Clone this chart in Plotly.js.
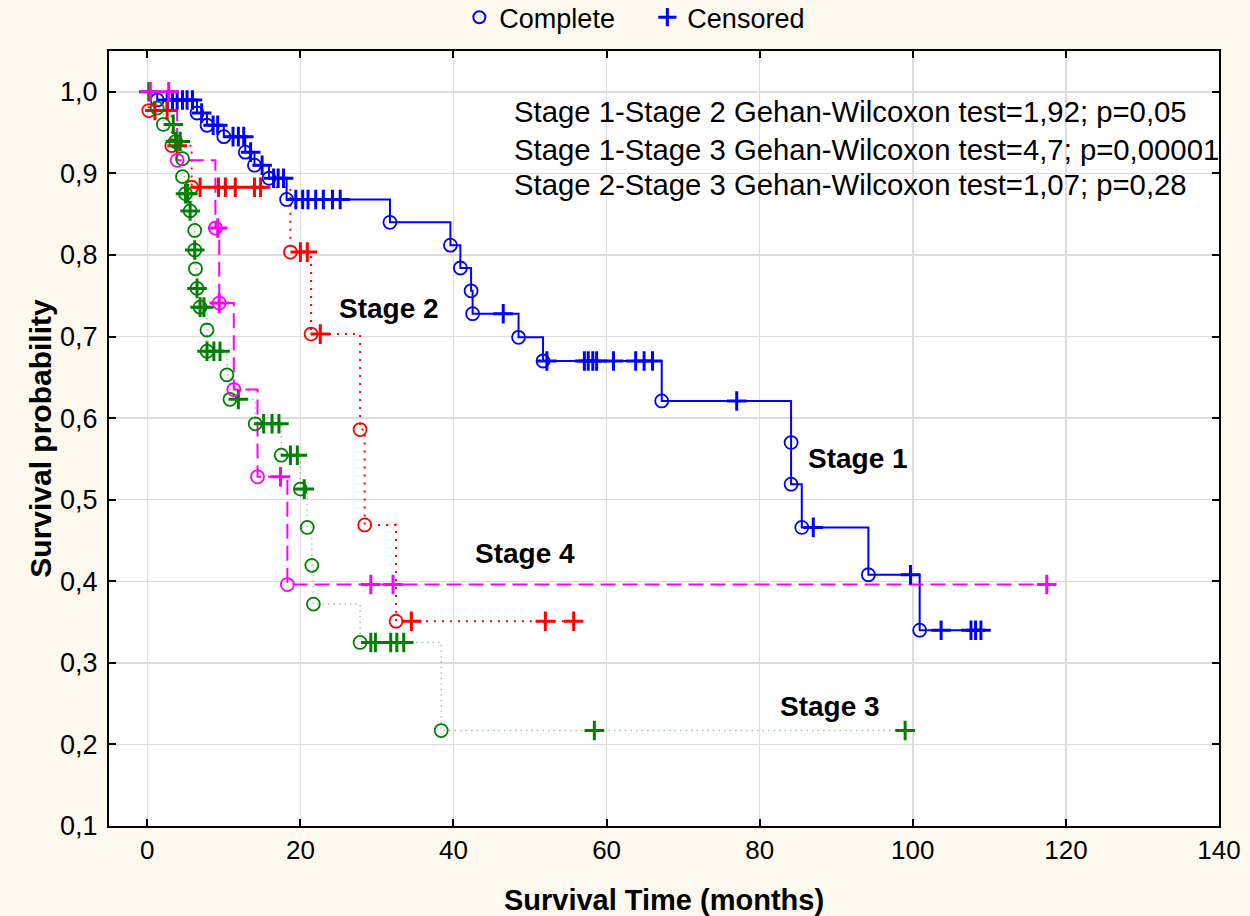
<!DOCTYPE html>
<html>
<head>
<meta charset="utf-8">
<script src="https://cdn.plot.ly/plotly-3.0.1.min.js"></script>
<style>html,body{margin:0;padding:0;background:#fdf9ee;}#chart{width:1250px;height:916px;}</style>
</head>
<body>
<div id="chart"></div>
<script>
// ---- Data ----
// Stage 1
const stage1EventT = [1.3,6.5,7.8,10.0,12.8,14.0,15.9,18.2,31.7,39.6,40.9,42.3,42.5,48.5,51.7,67.2,84.1,84.1,85.5,94.2,100.9];
const stage1EventS = [0.990,0.974,0.959,0.945,0.926,0.910,0.894,0.868,0.840,0.812,0.784,0.756,0.728,0.699,0.670,0.621,0.570,0.519,0.466,0.408,0.340];
const stage1CensT = [2.6,3.3,3.9,4.6,5.2,5.9,7.1,8.6,9.2,11.2,11.9,12.6,13.5,15.0,16.5,17.1,17.8,19.4,20.3,21.0,22.0,23.0,24.2,25.2,46.5,52.2,57.1,57.6,58.2,58.7,60.9,63.8,64.9,66.0,77.0,87.0,99.7,103.7,107.6,108.2,108.9];
const stage1CensS = [0.990,0.990,0.990,0.990,0.990,0.990,0.974,0.959,0.959,0.945,0.945,0.945,0.926,0.910,0.894,0.894,0.894,0.868,0.868,0.868,0.868,0.868,0.868,0.868,0.728,0.670,0.670,0.670,0.670,0.670,0.670,0.670,0.670,0.670,0.621,0.466,0.408,0.340,0.340,0.340,0.340];
// Stage 2
const stage2EventT = [0.2,3.2,5.8,18.7,21.4,27.8,28.4,32.5];
const stage2EventS = [0.977,0.934,0.883,0.8035,0.703,0.586,0.469,0.351];
const stage2CensT = [1.0,2.6,3.9,6.9,9.3,10.2,11.5,14.0,14.8,20.0,20.9,22.6,34.5,52.0,55.7];
const stage2CensS = [0.977,0.977,0.934,0.883,0.883,0.883,0.883,0.883,0.883,0.8035,0.8035,0.703,0.351,0.351,0.351];
// Stage 3
const stage3EventT = [1.3,2.1,3.7,4.6,4.6,5.0,5.6,6.2,6.2,6.3,6.5,6.9,7.8,7.8,10.4,10.8,14.1,17.5,20.0,20.9,21.5,21.7,27.8,38.4];
const stage3EventS = [0.980,0.960,0.939,0.918,0.896,0.875,0.854,0.830,0.806,0.783,0.759,0.736,0.708,0.682,0.653,0.623,0.593,0.5545,0.513,0.466,0.4195,0.372,0.325,0.217];
const stage3CensT = [0.2,3.4,3.7,4.3,5.0,5.3,5.6,6.2,6.5,6.9,7.4,7.8,8.7,9.5,11.9,15.2,16.3,17.2,18.7,19.6,20.5,29.2,29.8,31.8,32.6,33.5,58.4,99.0];
const stage3CensS = [1.0,0.960,0.939,0.939,0.875,0.875,0.854,0.806,0.759,0.736,0.736,0.682,0.682,0.682,0.623,0.593,0.593,0.593,0.5545,0.5545,0.513,0.325,0.325,0.325,0.325,0.325,0.217,0.217];
// Stage 4
const stage4EventT = [3.9,8.9,9.4,11.3,14.4,18.3];
const stage4EventS = [0.916,0.833,0.741,0.635,0.528,0.396];
const stage4CensT = [0.4,2.8,9.2,9.4,17.4,29.2,32.1,117.5];
const stage4CensS = [1.0,1.0,0.833,0.741,0.528,0.396,0.396,0.396];

const statLines = [
  "Stage 1-Stage 2 Gehan-Wilcoxon test=1,92; p=0,05",
  "Stage 1-Stage 3 Gehan-Wilcoxon test=4,7; p=0,00001",
  "Stage 2-Stage 3 Gehan-Wilcoxon test=1,07; p=0,28"
];
const stageLabels = ["Stage 1","Stage 2","Stage 3","Stage 4"];

// ---- Build traces ----
const FONT = "Liberation Sans, Arial, sans-serif";
const styles = [
  {color:"#0000ff", line:{color:"#0000ff", width:2, dash:"solid"}},
  {color:"#ff0000", line:{color:"#ff0000", width:2, dash:"2px,6px"}},
  {color:"#008000", line:{color:"rgba(0,128,0,0.4)", width:1.5, dash:"1.5px,4px"}},
  {color:"#ff00ff", line:{color:"#ff00ff", width:2, dash:"15px,7px"}}
];
const stages = [
  [stage1EventT,stage1EventS,stage1CensT,stage1CensS],
  [stage2EventT,stage2EventS,stage2CensT,stage2CensS],
  [stage3EventT,stage3EventS,stage3CensT,stage3CensS],
  [stage4EventT,stage4EventS,stage4CensT,stage4CensS]
];
const traces = [];
stages.forEach((s, i) => {
  const pts = [[0,1]];
  s[0].forEach((t,k)=>pts.push([t,s[1][k]]));
  s[2].forEach((t,k)=>pts.push([t,s[3][k]]));
  pts.sort((a,b)=> a[0]-b[0] || b[1]-a[1]);
  traces.push({x:pts.map(p=>p[0]), y:pts.map(p=>p[1]), mode:"lines", line:Object.assign({shape:"hv"}, styles[i].line), showlegend:false, hoverinfo:"skip"});
});
stages.forEach((s, i) => {
  traces.push({x:s[0], y:s[1], mode:"markers", showlegend:false,
    marker:{symbol:"circle-open", size:13, color:styles[i].color, line:{width:1.8, color:styles[i].color}}});
  traces.push({x:s[2], y:s[3], mode:"markers", showlegend:false,
    marker:{symbol:"cross-thin-open", size:14, color:styles[i].color, line:{width:3, color:styles[i].color}}});
});
// legend entries
traces.push({x:[null], y:[null], mode:"markers", name:"Complete",
  marker:{symbol:"circle-open", size:12, color:"#0000ff", line:{width:2, color:"#0000ff"}}});
traces.push({x:[null], y:[null], mode:"markers", name:"Censored",
  marker:{symbol:"cross-thin-open", size:13, color:"#0000ff", line:{width:3, color:"#0000ff"}}});

const annotations = [];
const statY = [0.976, 0.929, 0.886];
statLines.forEach((t,k)=>annotations.push({x:47.6, y:statY[k], xref:"x", yref:"y", text:t, showarrow:false, xanchor:"left", yanchor:"middle", font:{family:FONT, size:29.3, color:"#000"}}));
const labelPos = [[92.8,0.551],[31.6,0.734],[89.2,0.247],[49.3,0.434]];
stageLabels.forEach((t,k)=>annotations.push({x:labelPos[k][0], y:labelPos[k][1], xref:"x", yref:"y", text:"<b>"+t+"</b>", showarrow:false, xanchor:"center", yanchor:"middle", font:{family:FONT, size:28, color:"#000"}}));

const layout = {
  width:1250, height:916,
  paper_bgcolor:"#fdf9ee", plot_bgcolor:"#ffffff",
  margin:{l:109, r:31, t:51, b:90, pad:0, autoexpand:false},
  separators:", ",
  font:{family:FONT, size:26, color:"#000"},
  showlegend:true,
  legend:{orientation:"h", x:0.485, xanchor:"center", y:1.043, yanchor:"middle", entrywidth:143, entrywidthmode:"pixels", bgcolor:"rgba(0,0,0,0)", font:{family:FONT, size:27, color:"#000"}},
  xaxis:{range:[-5,140], tickvals:[0,20,40,60,80,100,120,140], showgrid:true, gridcolor:"#dcdcdc", gridwidth:1.5,
    showline:true, linecolor:"#000", linewidth:2, mirror:"ticks", ticks:"inside", ticklen:7, tickwidth:2, tickcolor:"#000",
    zeroline:false, tickfont:{family:FONT, size:26},
    title:{text:"<b>Survival Time (months)</b>", font:{family:FONT, size:29}, standoff:26}},
  yaxis:{range:[0.1,1.05], tickvals:[0.1,0.2,0.3,0.4,0.5,0.6,0.7,0.8,0.9,1.0], tickformat:".1f", showgrid:true, gridcolor:"#dcdcdc", gridwidth:1.5,
    showline:true, linecolor:"#000", linewidth:2, mirror:"ticks", ticks:"inside", ticklen:7, tickwidth:2, tickcolor:"#000",
    zeroline:false, tickfont:{family:FONT, size:27}, ticklabelstandoff:4,
    title:{text:"<b>Survival probability</b>", font:{family:FONT, size:30}, standoff:0}},
  annotations:annotations
};
Plotly.newPlot("chart", traces, layout, {displayModeBar:false, staticPlot:true});
</script>
</body>
</html>
